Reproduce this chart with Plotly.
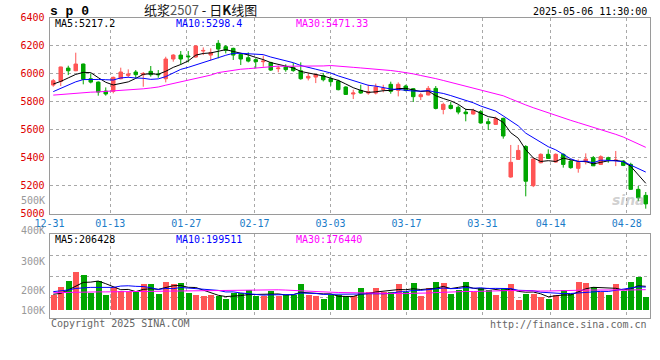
import plotly.graph_objects as go

# ---------------- data ----------------
dates = ["12-31", "01-02", "01-03", "01-06", "01-07", "01-08", "01-09", "01-10", "01-13", "01-14",
         "01-15", "01-16", "01-17", "01-20", "01-21", "01-22", "01-23", "01-24", "01-27", "02-05",
         "02-06", "02-07", "02-10", "02-11", "02-12", "02-13", "02-14", "02-17", "02-18", "02-19",
         "02-20", "02-21", "02-24", "02-25", "02-26", "02-27", "02-28", "03-03", "03-04", "03-05",
         "03-06", "03-07", "03-10", "03-11", "03-12", "03-13", "03-14", "03-17", "03-18", "03-19",
         "03-20", "03-21", "03-24", "03-25", "03-26", "03-27", "03-28", "03-31", "04-01", "04-02",
         "04-03", "04-07", "04-08", "04-09", "04-10", "04-11", "04-14", "04-15", "04-16", "04-17",
         "04-18", "04-21", "04-22", "04-23", "04-24", "04-25", "04-28", "04-29", "04-30", "05-06"]

opens = [5919, 5945, 6040, 6021, 6069, 5964, 5940, 5876, 5874, 5964,
         5988, 6012, 5993, 6017, 5998, 5964, 6105, 6133, 6126, 6119,
         6162, 6133, 6217, 6193, 6181, 6138, 6114, 6100, 6086, 6079,
         6036, 6048, 6045, 6021, 5969, 5976, 5986, 5964, 5948, 5905,
         5855, 5881, 5862, 5862, 5888, 5924, 5881, 5912, 5893, 5836,
         5848, 5895, 5745, 5774, 5760, 5726, 5712, 5729, 5657, 5638,
         5681, 5262, 5388, 5480, 5200, 5364, 5424, 5369, 5424, 5376,
         5324, 5371, 5400, 5352, 5400, 5380, 5376, 5352, 5174, 5131]
highs = [5962, 6050, 6057, 6150, 6072, 6002, 5945, 5902, 5979, 6043,
         6031, 6026, 6012, 6055, 6026, 6121, 6140, 6162, 6162, 6205,
         6188, 6181, 6240, 6205, 6186, 6145, 6152, 6110, 6129, 6086,
         6057, 6067, 6076, 6081, 6005, 5998, 6005, 5981, 5957, 5910,
         5886, 5921, 5921, 5929, 5921, 5943, 5938, 5921, 5898, 5864,
         5912, 5912, 5793, 5798, 5774, 5750, 5750, 5740, 5681, 5693,
         5686, 5491, 5491, 5490, 5400, 5431, 5460, 5431, 5431, 5388,
         5388, 5431, 5412, 5417, 5407, 5448, 5383, 5364, 5198, 5155]
lows = [5907, 5912, 5990, 6018, 5924, 5931, 5843, 5843, 5860, 5960,
        5971, 5967, 5907, 5979, 5971, 5938, 6086, 6067, 6081, 6115,
        6133, 6095, 6110, 6145, 6098, 6062, 6081, 6038, 6050, 6020,
        6010, 6014, 6014, 5957, 5952, 5933, 5945, 5914, 5881, 5848,
        5819, 5857, 5850, 5852, 5867, 5857, 5838, 5874, 5798, 5812,
        5845, 5745, 5710, 5745, 5710, 5660, 5708, 5643, 5598, 5635,
        5536, 5257, 5385, 5124, 5190, 5360, 5392, 5365, 5329, 5321,
        5293, 5352, 5345, 5350, 5364, 5340, 5340, 5170, 5090, 5036]
closes = [5950, 6048, 6021, 6069, 5960, 5940, 5869, 5855, 5974, 6012,
          5998, 5993, 6002, 5993, 5993, 6105, 6133, 6105, 6121, 6198,
          6166, 6152, 6176, 6167, 6133, 6105, 6090, 6086, 6090, 6026,
          6040, 6029, 6022, 5964, 5981, 5995, 5957, 5943, 5886, 5852,
          5862, 5862, 5871, 5905, 5893, 5874, 5924, 5880, 5836, 5850,
          5895, 5752, 5781, 5752, 5726, 5714, 5736, 5648, 5643, 5679,
          5555, 5367, 5452, 5232, 5390, 5424, 5395, 5424, 5352, 5329,
          5366, 5390, 5342, 5407, 5383, 5383, 5345, 5174, 5114, 5070]
volumes = [133000, 200000, 245000, 321000, 296000, 146000, 245000, 133000, 197000, 166000,
           158000, 152000, 226000, 226000, 141000, 237000, 226000, 234000, 150000, 133000,
           118000, 133000, 118000, 95000, 146000, 146000, 175000, 124000, 124000, 161000,
           124000, 133000, 133000, 226000, 133000, 124000, 95000, 133000, 127000, 124000,
           124000, 192000, 158000, 192000, 158000, 158000, 226000, 152000, 234000, 124000,
           192000, 243000, 234000, 141000, 175000, 243000, 158000, 192000, 175000, 133000,
           192000, 226000, 90000, 141000, 141000, 116000, 99000, 133000, 175000, 141000,
           243000, 234000, 195000, 158000, 133000, 226000, 166000, 243000, 281000, 116000]

# moving-average values before enough history is visible
ma5_head = [5926, 5945, 5970, 5995]
ma10_head = [5872, 5895, 5920, 5942, 5958, 5960, 5959, 5957, 5955]
ma30_head = [5847, 5852, 5857, 5862, 5866, 5868, 5870, 5873, 5876, 5880,
             5884, 5888, 5892, 5898, 5905, 5918, 5930, 5942, 5958, 5968,
             5980, 5990, 6008, 6016, 6026, 6032, 6036, 6040, 6044]
vma5_head = [139000, 146000, 175000, 209000]
vma10_head = [161000, 166000, 175000, 188000, 194000, 197000, 197000, 197000, 197000]
vma30_head = [152000, 154000, 156000, 158000, 158000, 158000, 159000, 159000, 160000, 160000,
              160000, 160000, 161000, 162000, 163000, 165000, 167000, 168000, 169000, 170000,
              170000, 171000, 171000, 172000, 172000, 173000, 173000, 174000, 175000]

tick_dates = ["12-31", "01-13", "01-27", "02-17", "03-03", "03-17", "03-31", "04-14", "04-28"]
price_ticks = [5000, 5200, 5400, 5600, 5800, 6000, 6200, 6400]
vol_labels = ["400K", "300K", "200K", "100K"]

ma_price_text = ["MA5:5217.2", "MA10:5298.4", "MA30:5471.33"]
ma_vol_text = ["MA5:206428", "MA10:199511", "MA30:176440"]

# ---------------- helpers ----------------
def rolling(vals, n, head):
    out = list(head)
    for i in range(len(head), len(vals)):
        out.append(sum(vals[i - n + 1:i + 1]) / n)
    return out

N = len(dates)
idx = list(range(N))
ma5 = rolling(closes, 5, ma5_head)
ma10 = rolling(closes, 10, ma10_head)
ma30 = rolling(closes, 30, ma30_head)
vma5 = rolling(volumes, 5, vma5_head)
vma10 = rolling(volumes, 10, vma10_head)
vma30 = rolling(volumes, 30, vma30_head)

RED = "#FF5555"
GREEN = "#00A600"
MONO = "DejaVu Sans Mono"

fig = go.Figure()
fig.add_trace(go.Candlestick(
    x=idx, open=opens, high=highs, low=lows, close=closes,
    increasing=dict(line=dict(color=RED, width=1), fillcolor=RED),
    decreasing=dict(line=dict(color=GREEN, width=1), fillcolor=GREEN),
    whiskerwidth=0, xaxis="x", yaxis="y", showlegend=False, hoverinfo="skip"))
for vals, col in [(ma5, "#000000"), (ma10, "#0000FF"), (ma30, "#FF00FF")]:
    fig.add_trace(go.Scatter(x=idx, y=vals, mode="lines", line=dict(color=col, width=1),
                             xaxis="x", yaxis="y", showlegend=False, hoverinfo="skip"))

vcolors = [RED if c >= o else GREEN for o, c in zip(opens, closes)]
fig.add_trace(go.Bar(x=idx, y=volumes, marker=dict(color=vcolors, line=dict(width=0)),
                     width=0.8, xaxis="x2", yaxis="y2", showlegend=False, hoverinfo="skip"))
for vals, col in [(vma5, "#000000"), (vma10, "#0000FF"), (vma30, "#FF00FF")]:
    fig.add_trace(go.Scatter(x=idx, y=vals, mode="lines", line=dict(color=col, width=1),
                             xaxis="x2", yaxis="y2", showlegend=False, hoverinfo="skip"))

# ---------------- layout ----------------
W, H = 660, 360
left_px, right_px = 49.5, 649.5
top1, bot1 = 17.7, 213.7
top2, bot2 = 234.3, 318.3
xdom = [left_px / W, right_px / W]
tick_idx = [dates.index(d) for d in tick_dates]
tick_pos = [k * N / (N - 1) - 0.5 for k in tick_idx]

# volume axis: zero level sits at y=310.7px, ~8450 per px
vpp = 8450.0
zero_px = 310.7
v_lo = -(bot2 - zero_px) * vpp
v_hi = (zero_px - top2) * vpp
v_grid = [v_lo + (v_hi - v_lo) * q / 4 for q in (1, 2, 3)]

GRID = "#A8A8A8"
BORDER = "#9A9A9A"
common_x = dict(domain=xdom, range=[-0.5, N - 0.5], showgrid=True, gridcolor=GRID, griddash="dot",
                gridwidth=1, zeroline=False, showline=True, mirror=True, linecolor=BORDER,
                linewidth=1, ticks="", tickvals=tick_pos, fixedrange=True, automargin=False)

fig.update_layout(
    width=W, height=H, margin=dict(l=0, r=0, t=0, b=0, autoexpand=False),
    paper_bgcolor="white", plot_bgcolor="white", boxgap=0.33, bargap=0,
    xaxis=dict(**common_x, anchor="y", ticktext=tick_dates,
               tickfont=dict(family=MONO, size=10, color="#1A7BC8"), rangeslider=dict(visible=False)),
    yaxis=dict(domain=[1 - bot1 / H, 1 - top1 / H], range=[5000, 6400], tickvals=price_ticks,
               tickfont=dict(family=MONO, size=10, color="#DD0000"), showgrid=True, gridcolor=GRID,
               griddash="dot", zeroline=False, showline=True, mirror=True, linecolor=BORDER,
               linewidth=1, ticks="", anchor="x", ticklabelstandoff=2, automargin=False),
    xaxis2=dict(**common_x, anchor="y2", showticklabels=False),
    yaxis2=dict(domain=[1 - bot2 / H, 1 - top2 / H], range=[v_lo, v_hi], tickvals=v_grid,
                showticklabels=False, showgrid=True, gridcolor=GRID, griddash="dot", zeroline=False,
                showline=True, mirror=True, linecolor=BORDER, linewidth=1, ticks="", anchor="x2",
                automargin=False),
)

ann = []
def txt(x, y, s, color="#000", size=10, xanchor="left", family=MONO, **kw):
    ann.append(dict(x=x / W, y=1 - y / H, xref="paper", yref="paper", text=s, showarrow=False,
                    xanchor=xanchor, yanchor="middle", font=dict(family=family, size=size, color=color), **kw))

# header
txt(48, 11, "<b>s p 0</b>", size=13, family="Liberation Mono")
txt(200, 9.5, "纸浆<span style='color:#555'>2507</span> - 日<b>K</b>线图", size=13,
    family="Noto Sans CJK SC", xanchor="center", color="#111")
txt(649, 12, "2025-05-06 11:30:00", xanchor="right")
# MA labels
for s, x, col in zip(ma_price_text, [53, 174, 294], ["#000", "#0000FF", "#FF00FF"]):
    txt(x, 24, s, color=col)
for s, x, col in zip(ma_vol_text, [53, 174, 294], ["#000", "#0000FF", "#FF00FF"]):
    txt(x, 239, s, color=col)
# volume axis labels (as drawn by the source chart)
for s, y in zip(vol_labels, [230.7, 261.7, 290.7, 310.0]):
    txt(46.5, y, s, color="#999", xanchor="right")
txt(46.5, 200.7, "500K", color="#999", xanchor="right")
# footer
txt(49, 323.5, "Copyright 2025 SINA.COM", color="#666")
txt(649, 324, "http://finance.sina.com.cn", color="#666", xanchor="right")
# watermark
txt(628, 200, "<i><b>sina</b></i>", color="rgba(150,150,150,0.45)", size=14, xanchor="center",
    family="DejaVu Sans")
fig.update_layout(annotations=ann)

fig.write_html("out.html", config={"displayModeBar": False},
               post_script="document.body.style.margin='0';document.body.style.overflow='hidden';")
